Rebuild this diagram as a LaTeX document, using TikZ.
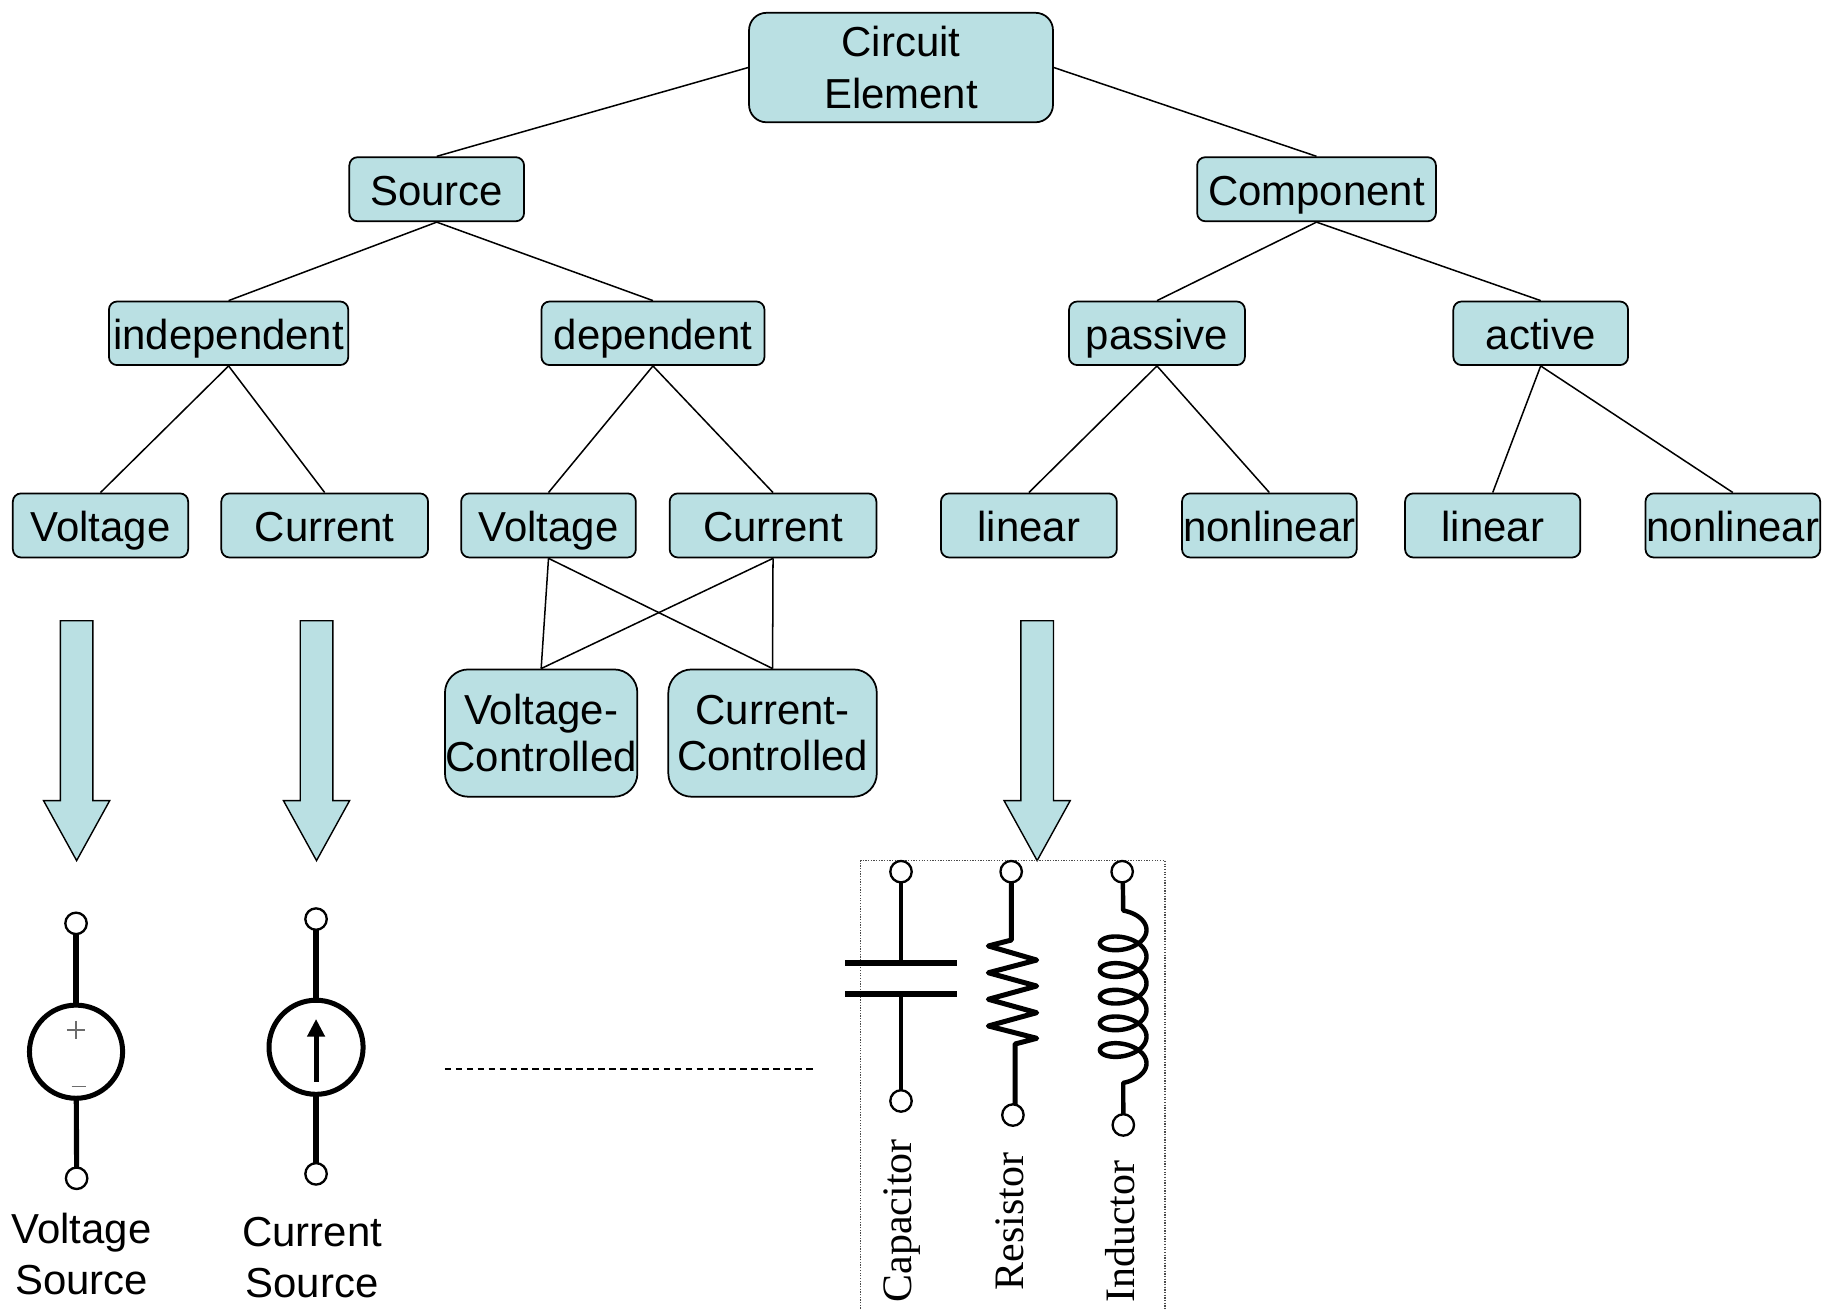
\documentclass[tikz,border=0pt]{standalone}
\usepackage{fontspec}
\setmainfont{Liberation Sans}
\newfontfamily\timesf{Liberation Serif}
\definecolor{boxfill}{RGB}{186,224,227}
\begin{document}
\begin{tikzpicture}[x=0.5pt,y=-0.5pt,
  tbox/.style={draw=black, line width=0.75pt, fill=boxfill, rounded corners=3.5pt, inner sep=0pt,
    font=\fontsize{18}{22}\selectfont, text height=13.6pt, text depth=0pt},
  mbox/.style={draw=black, line width=0.75pt, fill=boxfill, inner sep=0pt, align=center},
  link/.style={line width=0.65pt},
  blockarrow/.style={draw=black, line width=0.6pt, fill=boxfill, line join=miter},
  wire/.style={line width=2.2pt},
  termc/.style={line width=1pt, fill=white},
  lbl/.style={font=\fontsize{18}{22}\selectfont, align=center, inner sep=0pt},
  vlbl/.style={font=\timesf\fontsize{18}{22}\selectfont, rotate=90, anchor=base, inner sep=0pt}
]
\fill[white] (0,0) rectangle (1568,1123.2);
\useasboundingbox (0,0) rectangle (1568,1123.2);

% ---- tree nodes ----
\node[mbox, rounded corners=7.5pt, minimum width=130.5pt, minimum height=47pt,
  font=\fontsize{18}{22}\selectfont] (ce) at (773.7,58) {Circuit\\Element};
\node[tbox, minimum width=75pt, minimum height=27.5pt] (src) at (375,162.5) {Source};
\node[tbox, minimum width=102.5pt, minimum height=27.5pt] (comp) at (1130.5,162.5) {Component};

\node[tbox, minimum width=102.75pt, minimum height=27.3pt] (ind) at (196.3,286.2) {independent};
\node[tbox, minimum width=95.75pt, minimum height=27.3pt] (dep) at (560.7,286.2) {dependent};
\node[tbox, minimum width=75.5pt, minimum height=27.3pt] (pas) at (993.5,286.2) {passive};
\node[tbox, minimum width=75pt, minimum height=27.3pt] (act) at (1323,286.2) {active};

\node[tbox, minimum width=75.25pt, minimum height=27.5pt] (v1) at (86.3,451.2) {Voltage};
\node[tbox, minimum width=88.75pt, minimum height=27.5pt] (c1) at (278.8,451.2) {Current};
\node[tbox, minimum width=75pt, minimum height=27.5pt] (v2) at (471,451.2) {Voltage};
\node[tbox, minimum width=88.75pt, minimum height=27.5pt] (c2) at (663.8,451.2) {Current};
\node[tbox, minimum width=75.5pt, minimum height=27.5pt] (l1) at (883.5,451.2) {linear};
\node[tbox, minimum width=75pt, minimum height=27.5pt] (n1) at (1090,451.2) {nonlinear};
\node[tbox, minimum width=75.25pt, minimum height=27.5pt] (l2) at (1281.8,451.2) {linear};
\node[tbox, minimum width=75pt, minimum height=27.5pt] (n2) at (1488,451.2) {nonlinear};

\node[mbox, rounded corners=10pt, minimum width=82.6pt, minimum height=54.65pt,
  font=\fontsize{18}{20}\selectfont] (vc) at (464.7,629.5) {Voltage-\\Controlled};
\node[mbox, rounded corners=10pt, minimum width=89.5pt, minimum height=54.65pt,
  font=\fontsize{18}{20}\selectfont] (cc) at (663.4,629.5) {Current-\\Controlled};

% ---- tree connectors ----
\draw[link] (ce.west) -- (src.north);
\draw[link] (ce.east) -- (comp.north);
\draw[link] (src.south) -- (ind.north);
\draw[link] (src.south) -- (dep.north);
\draw[link] (comp.south) -- (pas.north);
\draw[link] (comp.south) -- (act.north);
\draw[link] (ind.south) -- (v1.north);
\draw[link] (ind.south) -- (c1.north);
\draw[link] (dep.south) -- (v2.north);
\draw[link] (dep.south) -- (c2.north);
\draw[link] (pas.south) -- (l1.north);
\draw[link] (pas.south) -- (n1.north);
\draw[link] (act.south) -- (l2.north);
\draw[link] (act.south) -- (n2.north);
\draw[link] (v2.south) -- (vc.north);
\draw[link] (v2.south) -- (cc.north);
\draw[link] (c2.south) -- (cc.north);
\draw[link] (c2.south) -- (vc.north);

% ---- block arrows ----
\foreach \cx in {65.8, 271.8, 890.6} {
  \draw[blockarrow] ({\cx-14},533) -- ({\cx+14},533) -- ({\cx+14},687.5) -- ({\cx+28.4},687.5)
    -- (\cx,739) -- ({\cx-28.4},687.5) -- ({\cx-14},687.5) -- cycle;
}

% ---- voltage source ----
\draw[wire] (65.3,801) -- (65.3,864);
\draw[wire] (65.5,942) -- (65.8,1003);
\draw[line width=2.15pt] (65.3,903.1) circle[radius=20pt];
\draw[gray!85!black, line width=0.6pt] (57.5,884.5) -- (73.1,884.5) (65.3,876.7) -- (65.3,892.3);
\draw[gray!85!black, line width=0.6pt] (61.4,933.1) -- (74.2,933.1);
\draw[termc] (65.3,792.9) circle[radius=4.6pt];
\draw[termc] (65.8,1011.8) circle[radius=4.6pt];
\node[lbl] (vsl) at (70,1077) {Voltage\\Source};

% ---- current source ----
\draw[wire] (271.4,797) -- (271.4,860);
\draw[wire] (271.4,938.7) -- (271.4,999.5);
\draw[line width=2.15pt] (271.4,899.3) circle[radius=20.2pt];
\draw[line width=2.15pt] (271.4,928.8) -- (271.4,888);
\fill (263.5,890.2) -- (279.3,890.2) -- (271.4,875.3) -- cycle;
\draw[termc] (271.4,789.2) circle[radius=4.6pt];
\draw[termc] (271.4,1008) circle[radius=4.6pt];
\node[lbl] (csl) at (268,1080) {Current\\Source};

% ---- dashed line ----
\coordinate (dl) at (382,918);
\coordinate (dr) at (698,918);
\draw[line width=0.85pt, dash pattern=on 2.85pt off 1.85pt] (dl) -- (dr);

% ---- dotted frame ----
\draw[gray!60!black, line width=0.6pt, dash pattern=on 0.55pt off 0.6pt]
  (739,1126) -- (739,739) -- (1000.4,739) -- (1000.4,1126);

% ---- capacitor ----
\draw[line width=1.7pt] (773.7,757) -- (773.7,826.6);
\draw[line width=2.6pt] (725.6,826.6) -- (821.5,826.6);
\draw[line width=2.6pt] (725.6,853.8) -- (821.5,853.8);
\draw[line width=1.7pt] (773.7,853.8) -- (773.7,937);
\draw[termc] (773.7,748.5) circle[radius=4.6pt];
\draw[termc] (773.7,945.4) circle[radius=4.6pt];
\node[vlbl] (capl) at (782.9,1048.2) {Capacitor};

% ---- resistor ----
\draw[line width=2.15pt, line join=round] (868.5,757) -- (868.5,807.2) -- (848.7,812.3) -- (890.2,824.4)
  -- (848.7,835.3) -- (890.2,846.7) -- (848.7,858.1) -- (890.2,869.6) -- (848.7,881.0)
  -- (890.2,891.6) -- (871.6,896.5) -- (871.6,949);
\draw[termc] (868.3,748.5) circle[radius=4.6pt];
\draw[termc] (869.8,957.5) circle[radius=4.6pt];
\node[vlbl] (resl) at (878.7,1049) {Resistor};

% ---- inductor ----
\draw[line width=1.9pt, line join=round] (964.2,757) -- (964.5,781.6)
  -- plot[domain=-90:1890, samples=360, smooth] ({964.5+20*cos(\x)}, {798.6+3.645*rad(\x)+11*sin(\x)})
  -- (964.6,957.5);
\draw[termc] (963.6,748.5) circle[radius=4.6pt];
\draw[termc] (964.6,966) circle[radius=4.6pt];
\node[vlbl] (indl) at (974.6,1057.6) {Inductor};

\end{tikzpicture}
\end{document}
